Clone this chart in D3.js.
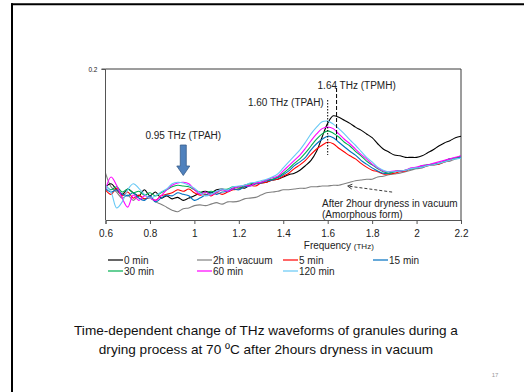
<!DOCTYPE html>
<html>
<head>
<meta charset="utf-8">
<script src="https://cdn.jsdelivr.net/npm/d3@7"></script>
<style>
  html, body { margin: 0; padding: 0; background: #fff; }
  svg { display: block; font-family: "Liberation Sans", Arial, sans-serif; }
</style>
</head>
<body>
<svg id="chart" width="524" height="392"></svg>
<script>
// ---------- data ----------
const frequency = d3.range(65).map(i => +(0.6 + i * 0.025).toFixed(3));
const seriesNames = ["0 min", "2h in vacuum", "5 min", "15 min", "30 min", "60 min", "120 min"];
const seriesColors = ["#000000", "#808080", "#ff0000", "#0070c0", "#00b050", "#ff00ff", "#66c8f5"];

const min0 = [.044,.048,.040,.034,.041,.036,.032,.040,.032,.037,
  .029,.032,.028,.030,.026,.029,.032,.036,.038,.036,
  .040,.041,.040,.042,.044,.042,.046,.048,.049,.050,
  .053,.054,.057,.060,.062,.066,.072,.079,.091,.110,
  .128,.138,.136,.132,.128,.123,.119,.114,.109,.101,
  .094,.090,.086,.085,.083,.083,.083,.085,.089,.093,
  .098,.102,.105,.109,.111];
const vacuum2h = [.062,.044,.037,.029,.033,.026,.032,.028,.029,.024,
  .021,.017,.013,.011,.015,.016,.019,.020,.019,.021,
  .023,.021,.024,.024,.025,.028,.029,.030,.033,.036,
  .037,.038,.040,.040,.041,.042,.042,.044,.044,.045,
  .045,.046,.046,.048,.050,.052,.053,.054,.054,.057,
  .058,.060,.061,.062,.064,.066,.068,.069,.072,.073,
  .074,.077,.078,.081,.082];
const min5 = [.040,.034,.042,.032,.037,.029,.033,.028,.030,.026,
  .032,.034,.036,.040,.038,.041,.036,.033,.034,.032,
  .036,.034,.037,.040,.041,.044,.046,.045,.049,.050,
  .053,.054,.058,.062,.068,.073,.079,.087,.094,.099,
  .103,.101,.095,.090,.085,.081,.075,.070,.066,.064,
  .061,.061,.062,.064,.065,.068,.069,.070,.072,.073,
  .074,.077,.079,.082,.083];
const min15 = [.042,.037,.040,.034,.032,.036,.029,.026,.032,.024,
  .029,.033,.032,.036,.034,.032,.026,.029,.033,.036,
  .034,.037,.038,.041,.040,.044,.045,.048,.049,.052,
  .053,.056,.060,.065,.072,.077,.083,.093,.101,.107,
  .111,.109,.103,.097,.091,.086,.079,.074,.069,.065,
  .062,.062,.064,.065,.066,.068,.069,.070,.073,.074,
  .075,.078,.081,.082,.083];
const min30 = [.046,.040,.044,.037,.041,.036,.038,.033,.036,.032,
  .036,.040,.044,.046,.045,.044,.040,.037,.036,.038,
  .037,.040,.041,.044,.042,.046,.048,.049,.050,.053,
  .054,.057,.062,.068,.075,.081,.089,.098,.107,.114,
  .118,.115,.110,.103,.098,.091,.085,.078,.073,.068,
  .064,.062,.064,.065,.066,.068,.069,.072,.073,.074,
  .075,.078,.081,.082,.085];
const min60 = [.040,.057,.046,.029,.017,.033,.026,.032,.029,.026,
  .032,.040,.046,.049,.050,.048,.040,.034,.037,.033,
  .037,.040,.038,.042,.044,.046,.045,.049,.050,.053,
  .056,.058,.065,.072,.079,.086,.095,.105,.114,.121,
  .123,.121,.114,.107,.101,.094,.087,.081,.074,.069,
  .065,.064,.065,.065,.066,.069,.070,.072,.073,.075,
  .077,.079,.081,.083,.085];
const min120 = [.046,.037,.016,.024,.040,.048,.042,.034,.029,.032,
  .037,.041,.048,.050,.049,.046,.042,.036,.032,.034,
  .038,.041,.040,.044,.045,.046,.049,.050,.052,.054,
  .057,.061,.069,.077,.085,.093,.103,.114,.123,.130,
  .131,.127,.121,.114,.106,.099,.091,.083,.077,.070,
  .066,.064,.064,.065,.066,.068,.069,.070,.072,.073,
  .075,.077,.079,.081,.082];
const seriesValues = [min0, vacuum2h, min5, min15, min30, min60, min120];

const xTicks = [0.6, 0.8, 1.0, 1.2, 1.4, 1.6, 1.8, 2.0, 2.2];
const yTicks = [0.2];
const yDomain = [0, 0.2];

const annotations = [
  { text: "0.95 THz (TPAH)", f: 0.95 },
  { text: "1.60 THz (TPAH)", f: 1.60 },
  { text: "1.64 THz (TPMH)", f: 1.64 }
];
const captionLines = [
  "Time-dependent change of THz waveforms of granules during a",
  "drying process at 70 \u00BAC after 2hours dryness in vacuum"
];

// ---------- layout ----------
const svg = d3.select("#chart");
const plot = { left: 105.5, right: 461, top: 69, bottom: 220 };

// slide frame
svg.append("line").attr("x1", 11).attr("x2", 524).attr("y1", 4.3).attr("y2", 4.3)
  .attr("stroke", "#000").attr("stroke-width", 2);
svg.append("line").attr("x1", 12).attr("x2", 12).attr("y1", 3.3).attr("y2", 392)
  .attr("stroke", "#000").attr("stroke-width", 2);

const x = d3.scaleLinear().domain([0.6, 2.2]).range([plot.left, plot.right]);
const y = d3.scaleLinear().domain(yDomain).range([plot.bottom, plot.top]);

// plot frame (top/right)
svg.append("path")
  .attr("d", `M${plot.left},${plot.top}H${plot.right}V${plot.bottom}`)
  .attr("fill", "none").attr("stroke", "#3a3a3a").attr("stroke-width", 1);

// series lines
const line = d3.line()
  .x((d, i) => x(frequency[i]))
  .y(d => y(d))
  .curve(d3.curveCatmullRom.alpha(0.5));

const order = [1, 0, 2, 3, 4, 5, 6];
order.forEach(k => {
  svg.append("path")
    .datum(seriesValues[k])
    .attr("d", line)
    .attr("fill", "none")
    .attr("stroke", seriesColors[k])
    .attr("stroke-width", 1.1)
    .attr("stroke-linejoin", "round");
});

// axes
const xAxis = d3.axisBottom(x).tickValues(xTicks).tickSize(4).tickPadding(6)
  .tickFormat(d => String(+d.toFixed(1)));
const gx = svg.append("g").attr("transform", `translate(0,${plot.bottom})`).call(xAxis);
gx.selectAll("text").attr("font-size", 10).attr("fill", "#222")
  .attr("font-family", "Liberation Sans, Arial, sans-serif");
gx.selectAll("line, path").attr("stroke", "#555");

const yAxis = d3.axisLeft(y).tickValues(yTicks).tickSize(4).tickPadding(4)
  .tickFormat(d3.format(".1f"));
const gy = svg.append("g").attr("transform", `translate(${plot.left},0)`).call(yAxis);
gy.select(".domain").attr("d", `M-4,${plot.top}H0V${plot.bottom}`);
gy.selectAll("text").attr("font-size", 6.5).attr("fill", "#222")
  .attr("font-family", "Liberation Sans, Arial, sans-serif");
gy.selectAll("line, path").attr("stroke", "#555");

// x axis title
const xt = svg.append("text").attr("x", x(1.65)).attr("y", 248.5)
  .attr("text-anchor", "middle").attr("font-size", 10).attr("fill", "#222");
xt.append("tspan").text("Frequency ");
xt.append("tspan").attr("font-size", 8).text("(THz)");

// annotations
const ann = svg.append("g").attr("font-size", 10).attr("fill", "#222");
// 0.95 arrow
const ax = x(annotations[0].f);
ann.append("text").attr("x", ax).attr("y", 139).attr("text-anchor", "middle").text(annotations[0].text);
ann.append("path")
  .attr("d", `M${ax - 3},145V166H${ax - 6.5}L${ax},175.5L${ax + 6.5},166H${ax + 3}V145Z`)
  .attr("fill", "#4f81bd").attr("stroke", "#385d8a").attr("stroke-width", 0.8);

// 1.60 dotted
const x160 = x(annotations[1].f);
ann.append("text").attr("x", x160 - 4).attr("y", 105.5).attr("text-anchor", "end").text(annotations[1].text);
svg.append("line").attr("x1", x160).attr("x2", x160).attr("y1", 100).attr("y2", 155)
  .attr("stroke", "#000").attr("stroke-width", 1).attr("stroke-dasharray", "1.5,1.5");

// 1.64 dashed
const x164 = x(annotations[2].f);
ann.append("text").attr("x", x164 - 19).attr("y", 89).text(annotations[2].text);
svg.append("line").attr("x1", x164).attr("x2", x164).attr("y1", 88).attr("y2", 140)
  .attr("stroke", "#000").attr("stroke-width", 1).attr("stroke-dasharray", "4,2");

// amorphous note
ann.append("text").attr("x", 322).attr("y", 207).text("After 2hour dryness in vacuum");
ann.append("text").attr("x", 322).attr("y", 218).text("(Amorphous form)");
svg.append("line")
  .attr("x1", x(1.89)).attr("y1", y(0.037)).attr("x2", x(1.69)).attr("y2", y(0.045))
  .attr("stroke", "#222").attr("stroke-width", 0.9).attr("stroke-dasharray", "3,2");
{
  const x0 = x(1.69), y0 = y(0.045), x1 = x(1.89), y1 = y(0.037);
  const a = Math.atan2(y1 - y0, x1 - x0);
  const L = 5, w = 0.5;
  svg.append("path")
    .attr("d", `M${x0 + L * Math.cos(a - w)},${y0 + L * Math.sin(a - w)}L${x0},${y0}L${x0 + L * Math.cos(a + w)},${y0 + L * Math.sin(a + w)}`)
    .attr("fill", "none").attr("stroke", "#222").attr("stroke-width", 0.9);
}

// legend
const legendX = [108, 197, 283, 373];
const legendY = [260, 271];
const lg = svg.append("g").attr("font-size", 10).attr("fill", "#222");
seriesNames.forEach((name, i) => {
  const col = i % 4, row = Math.floor(i / 4);
  const lx = legendX[col], ly = legendY[row];
  lg.append("line").attr("x1", lx).attr("x2", lx + 15).attr("y1", ly).attr("y2", ly)
    .attr("stroke", seriesColors[i]).attr("stroke-width", 1.2);
  lg.append("text").attr("x", lx + 16).attr("y", ly + 3.6).text(name);
});

// caption
captionLines.forEach((t, i) => {
  svg.append("text").attr("x", 266).attr("y", 334.5 + i * 19)
    .attr("text-anchor", "middle").attr("font-size", 13.6).attr("fill", "#111").text(t);
});
svg.append("text").attr("x", 495).attr("y", 377).attr("text-anchor", "middle")
  .attr("font-size", 6).attr("fill", "#999").text("17");
</script>
</body>
</html>
